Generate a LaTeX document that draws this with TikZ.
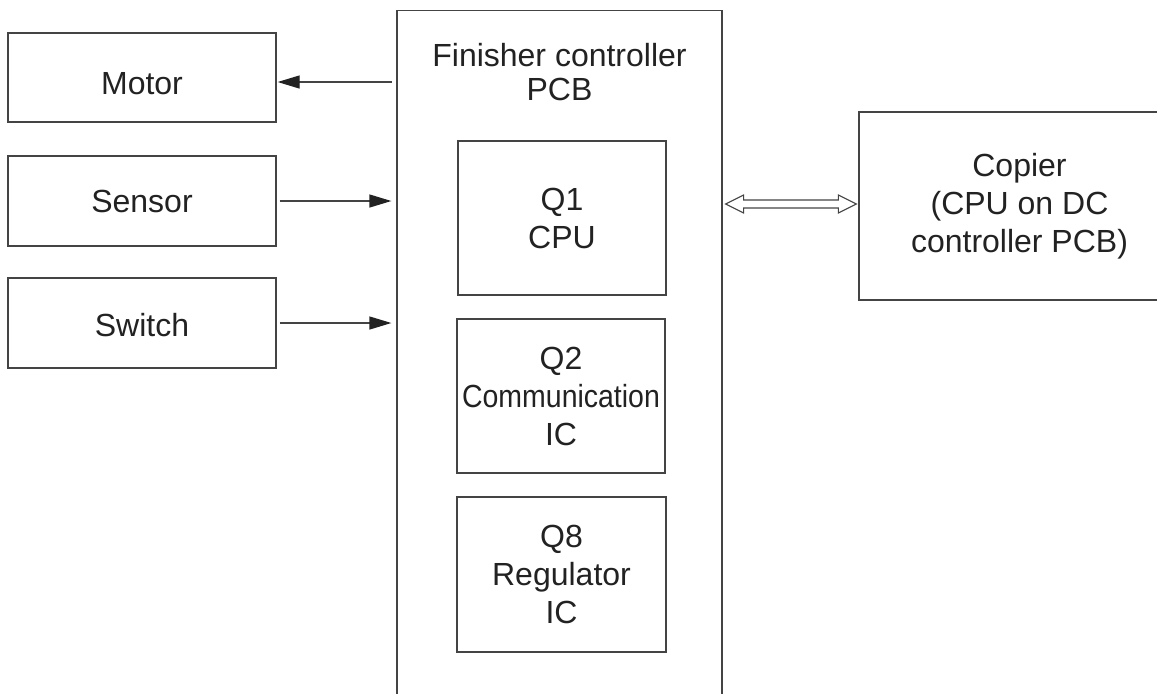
\documentclass[tikz,border=0pt]{standalone}
\usepackage{fontspec}
\setsansfont{Liberation Sans}
\usetikzlibrary{
  arrows.meta,
  calc,
  positioning}
\definecolor{edge}{HTML}{444444}
\definecolor{ink}{HTML}{222222}
\tikzset{
  module/.style={%
    draw=edge, line width=0.65pt,
    fill=white,
    align=center,
    text=ink,
    inner sep=0pt,
    font=\sffamily\fontsize{16}{19}\selectfont
  },
  arrowL/.style={%
    {Triangle[length=11pt,width=6.5pt,color=ink]}-
  },
  arrowR/.style={%
    -{Triangle[length=11pt,width=6.5pt,color=ink]}
  }%
}

\begin{document}
\begin{tikzpicture}[x=0.5pt,y=-0.5pt,draw=edge,line width=0.65pt]
\useasboundingbox (0,0) rectangle (1157,693);
% The PCB and copier boxes run off the page, so clip at its border.
\clip (0,0) rectangle (1157,693);

% Finisher controller board, open towards the bottom of the page.
\node[module, minimum width=162.5pt, minimum height=360pt, anchor=north]
  (pcb) at (559.5,10) {};
\node[module, draw=none, fill=none, font=\sffamily\fontsize{16}{17}\selectfont]
  (pcbTitle) at (559.5,72) {Finisher controller\\PCB};

% Parts on the board.
\node[module, minimum width=104pt, minimum height=77pt] (Q1) at (562,218)
  {Q1\\CPU};
\node[module, minimum width=104pt, minimum height=77pt] (Q2) at (561,396)
  {Q2\\\scalebox{0.89}[1]{Communication}\\IC};
\node[module, minimum width=104.5pt, minimum height=77.5pt] (Q8) at (561.5,574.5)
  {Q8\\Regulator\\IC};

% Loads and inputs on the left.
\node[module, minimum width=134pt, minimum height=44.5pt,
  text height=17pt, text depth=0pt] (Motor) at (142,77.5) {Motor};
\node[module, minimum width=134pt, minimum height=45pt] (Sensor) at (142,201)
  {Sensor};
\node[module, minimum width=134pt, minimum height=45pt,
  text height=13.5pt, text depth=0pt] (Switch) at (142,323) {Switch};

% Copier on the right.
\node[module, minimum width=160.5pt, minimum height=94pt] (Copier) at (1019.5,206)
  {Copier\\(CPU on DC\\controller PCB)};

\draw[arrowL, shorten <=0.5pt, shorten >=2pt]
  ([yshift=-2.25pt]Motor.east) -- ([yshift=-2.25pt]Motor.east -| pcb.west);
\draw[arrowR, shorten <=1.5pt, shorten >=2.5pt]
  (Sensor.east) -- (Sensor.east -| pcb.west);
\draw[arrowR, shorten <=1.5pt, shorten >=2.5pt]
  (Switch.east) -- (Switch.east -| pcb.west);

% Hollow two-way arrow between the board and the copier.
\coordinate (busL) at ([xshift=1.5pt,yshift=1pt]pcb.east |- Copier.west);
\coordinate (busR) at ([xshift=-1pt,yshift=1pt]Copier.west);
\draw[line width=0.55pt, line join=miter] (busL) -- ($(busL)+(18,-9)$) -- ($(busL)+(18,-4)$)
  -- ($(busR)+(-18,-4)$) -- ($(busR)+(-18,-9)$) -- (busR)
  -- ($(busR)+(-18,9)$) -- ($(busR)+(-18,4)$)
  -- ($(busL)+(18,4)$) -- ($(busL)+(18,9)$) -- cycle;

\end{tikzpicture}
\end{document}
